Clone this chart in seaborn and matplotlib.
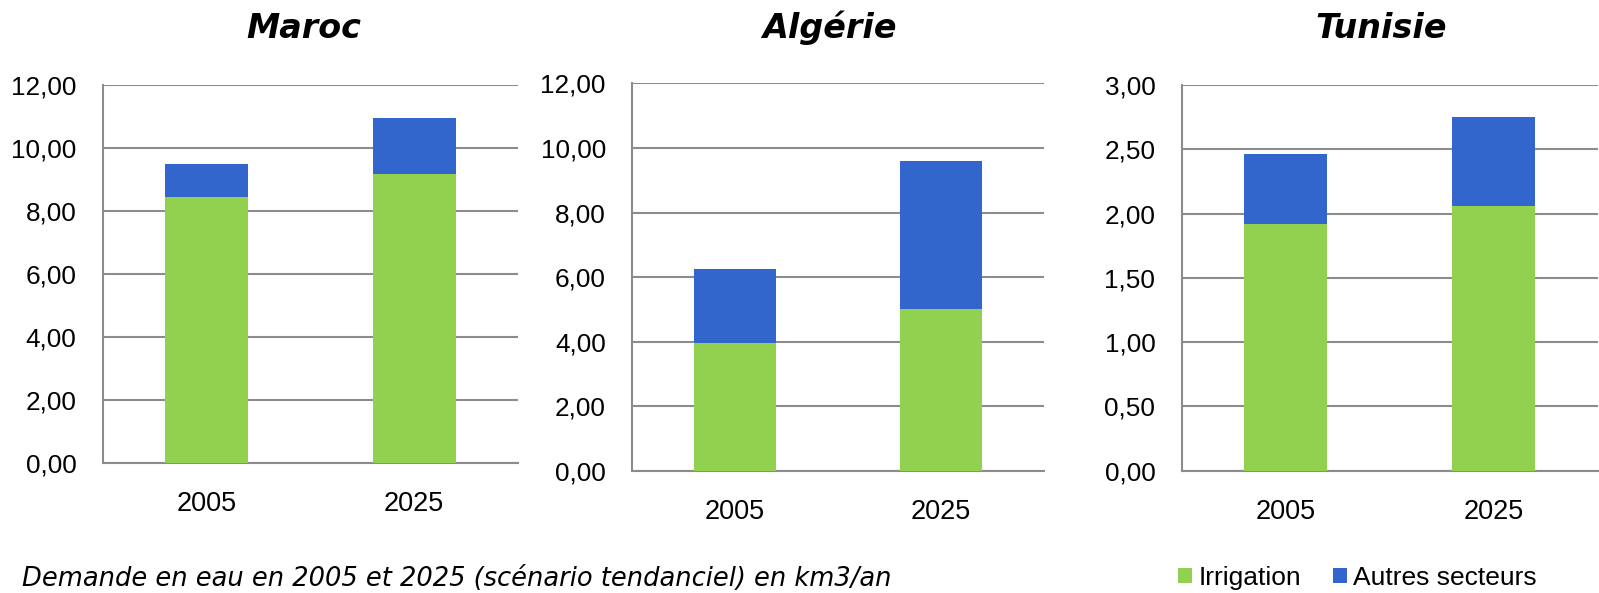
import pandas as pd
import matplotlib.pyplot as plt
import seaborn as sns
from matplotlib.ticker import FuncFormatter, FixedLocator

years = ['2005', '2025']
countries = ['Maroc', 'Algérie', 'Tunisie']
irrigation = {
    'Maroc': [8.46, 9.18],
    'Algérie': [3.95, 5.00],
    'Tunisie': [1.92, 2.06],
}
autres = {
    'Maroc': [1.02, 1.77],
    'Algérie': [2.31, 4.60],
    'Tunisie': [0.54, 0.69],
}
y_max = {'Maroc': 12, 'Algérie': 12, 'Tunisie': 3}
y_step = {'Maroc': 2, 'Algérie': 2, 'Tunisie': 0.5}

green = '#92D050'
blue = '#3366CC'
grid_grey = '#8C8C8C'

sns.set_style('white')
plt.rcParams['font.family'] = ['Liberation Sans', 'DejaVu Sans']
plt.rcParams['text.color'] = 'black'
plt.rcParams['xtick.labelcolor'] = 'black'
plt.rcParams['ytick.labelcolor'] = 'black'

fig = plt.figure(figsize=(15.99, 5.93), dpi=100)
boxes = [
    [0.0644, 0.2187, 0.2594, 0.6380],
    [0.3954, 0.2057, 0.2575, 0.6538],
    [0.7390, 0.2062, 0.2602, 0.6504],
]
title_x = [0.190, 0.519, 0.864]

for country, box, tx in zip(countries, boxes, title_x):
    ax = fig.add_axes(box)
    df = pd.DataFrame({
        'year': years,
        'irrigation': irrigation[country],
        'total': [a + b for a, b in zip(irrigation[country], autres[country])],
    })
    # stacked bars: draw the total in blue, then irrigation in green over it
    sns.barplot(data=df, x='year', y='total', color=blue, width=0.4,
                saturation=1, linewidth=0, label='Autres secteurs', ax=ax,
                zorder=3)
    sns.barplot(data=df, x='year', y='irrigation', color=green, width=0.4,
                saturation=1, linewidth=0, label='Irrigation', ax=ax,
                zorder=3)
    ax.set_xlim(-0.5, 1.5)
    ax.set_ylim(0, y_max[country])
    step = y_step[country]
    ticks = [i * step for i in range(int(round(y_max[country] / step)) + 1)]
    ax.yaxis.set_major_locator(FixedLocator(ticks))
    ax.yaxis.set_major_formatter(FuncFormatter(lambda v, p: f'{v:.2f}'.replace('.', ',')))
    ax.yaxis.grid(True, color=grid_grey, linewidth=1.5, zorder=0)
    ax.set_axisbelow(True)
    ax.xaxis.set_minor_locator(FixedLocator([-0.5, 0.5, 1.5]))
    ax.tick_params(axis='x', which='major', length=0, pad=20, labelsize=19.5)
    ax.tick_params(axis='x', which='minor', length=6, width=1.5, color=grid_grey)
    ax.tick_params(axis='y', length=6, width=1.5, color=grid_grey, pad=13, labelsize=18.8)
    for s in ['top', 'right']:
        ax.spines[s].set_visible(False)
    for s in ['left', 'bottom']:
        ax.spines[s].set_color(grid_grey)
        ax.spines[s].set_linewidth(1.5)
    ax.set_xlabel('')
    ax.set_ylabel('')
    if ax.get_legend():
        ax.get_legend().remove()
    fig.text(tx, 0.9354, country, ha='center', va='baseline', fontsize=24,
             fontweight='bold', fontstyle='italic', family='DejaVu Sans')
    if country == 'Maroc':
        handles, labels = ax.get_legend_handles_labels()

order = [labels.index('Irrigation'), labels.index('Autres secteurs')]
fig.legend([handles[i] for i in order], [labels[i] for i in order],
           loc='center left', bbox_to_anchor=(0.7369, 0.0253), ncol=2, frameon=False,
           fontsize=19, handlelength=0.53, handleheight=0.53,
           handletextpad=0.23, columnspacing=1.2, borderpad=0, borderaxespad=0)

fig.text(0.014, 0.0118, 'Demande en eau en 2005 et 2025 (scénario tendanciel) en km3/an',
         ha='left', va='baseline', fontsize=18.5, fontstyle='italic', family='DejaVu Sans')

plt.savefig('out.png', dpi=100)
